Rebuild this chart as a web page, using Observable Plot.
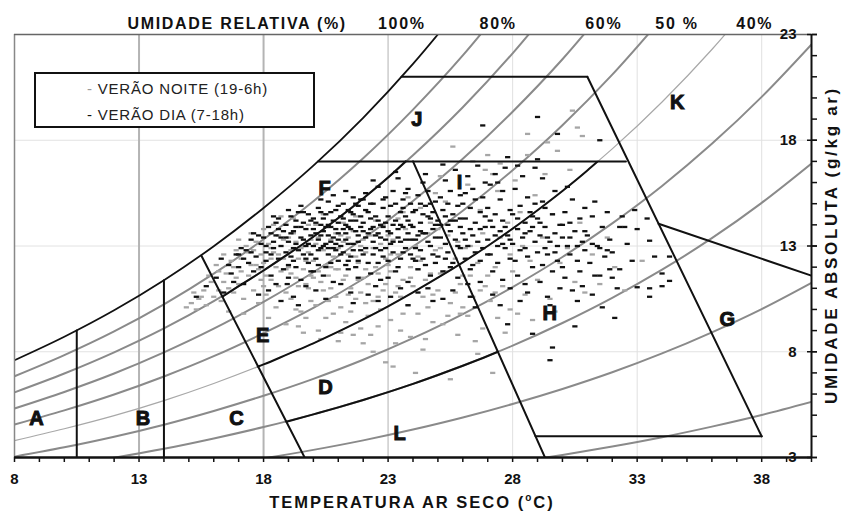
<!DOCTYPE html>
<html><head><meta charset="utf-8">
<script src="https://cdn.jsdelivr.net/npm/d3@7"></script>
<script src="https://cdn.jsdelivr.net/npm/@observablehq/plot@0.6"></script>
<style>
body{margin:0;background:#fff;}
#wrap{position:relative;width:846px;height:511px;font-family:"Liberation Sans",Arial,sans-serif;color:#111;}
.xtitle{position:absolute;left:412px;top:489px;transform:translateX(-50%);font-weight:bold;font-size:16.5px;line-height:17px;letter-spacing:2px;white-space:nowrap;}
.ytitle{position:absolute;left:832px;top:245px;transform:translate(-50%,-50%) rotate(-90deg);font-weight:bold;font-size:17px;line-height:18px;letter-spacing:2.7px;white-space:nowrap;}
.legend{position:absolute;left:34px;top:72px;width:281px;height:56px;box-sizing:border-box;border:2px solid #111;background:#fff;}
.legend span.row{position:absolute;left:51px;font-size:15px;line-height:16px;letter-spacing:0.8px;white-space:nowrap;color:#222;}
</style></head><body><div id="wrap"></div>
<script>
// ---- axis ticks ----
const xTicksMajor = [8, 13, 18, 23, 28, 33, 38];
const yTicksMajor = [3, 8, 13, 18, 23];
const topLabelText = ["UMIDADE RELATIVA (%)", "100%", "80%", "60%", "50 %", "40%"];
const topLabelT = [16.94, 23.55, 27.42, 31.66, 34.6, 37.72];

// ---- relative humidity curves [temp °C, g/kg] ----
const rh100 = [[8,7.60],[10,8.71],[12,9.96],[14,11.38],[16,12.99],[18,14.80],[20,16.80],[22,19.06],[24,21.61],[26,24.45]];
const rh90 = [[8,6.84],[10,7.84],[12,8.96],[14,10.24],[16,11.69],[18,13.32],[20,15.12],[22,17.15],[24,19.45],[26,22.01],[28,24.88]];
const rh80 = [[8,6.08],[10,6.97],[12,7.97],[14,9.10],[16,10.39],[18,11.84],[20,13.44],[22,15.25],[24,17.29],[26,19.56],[28,22.11],[30,24.95]];
const rh70 = [[8,5.32],[10,6.10],[12,6.97],[14,7.97],[16,9.09],[18,10.36],[20,11.76],[22,13.34],[24,15.13],[26,17.12],[28,19.35],[30,21.83],[32,24.62]];
const rh60 = [[8,4.56],[10,5.23],[12,5.98],[14,6.83],[16,7.79],[18,8.88],[20,10.08],[22,11.44],[24,12.97],[26,14.67],[28,16.58],[30,18.71],[32,21.10],[34,23.77]];
const rh50 = [[8,3.80],[10,4.36],[12,4.98],[14,5.69],[16,6.50],[18,7.40],[20,8.40],[22,9.53],[24,10.81],[26,12.23],[28,13.82],[30,15.60],[32,17.59],[34,19.81],[36,22.29],[38,25.06]];
const rh40 = [[8,3.04],[10,3.48],[12,3.98],[14,4.55],[16,5.20],[18,5.92],[20,6.72],[22,7.62],[24,8.64],[26,9.78],[28,11.06],[30,12.48],[32,14.07],[34,15.84],[36,17.83],[38,20.05],[40,22.53]];
const rh30 = [[10,2.61],[12,2.99],[14,3.41],[16,3.90],[18,4.44],[20,5.04],[22,5.72],[24,6.48],[26,7.34],[28,8.29],[30,9.36],[32,10.55],[34,11.88],[36,13.37],[38,15.04],[40,16.90]];
const rh20 = [[16,2.60],[18,2.96],[20,3.36],[22,3.81],[24,4.32],[26,4.89],[28,5.53],[30,6.24],[32,7.03],[34,7.92],[36,8.92],[38,10.02],[40,11.26]];
const rh10 = [[28,2.76],[30,3.12],[32,3.52],[34,3.96],[36,4.46],[38,5.01],[40,5.63]];

// ---- zone boundary lines ----
const lineV1 = [[10.5,3],[10.5,9.0]];
const lineV2 = [[14,3],[14,11.38]];
const lineCE = [[15.5,12.55],[19.65,3]];
const line80 = [[16.35,10.6],[17,11.10],[18,11.84],[19,12.63],[20,13.44],[21,14.32],[22,15.25],[23,16.24],[23.7,17.0]];
const line50 = [[17.77,7.3],[18,7.40],[19,7.90],[20,8.40],[21,8.95],[22,9.53],[23,10.15],[24,10.81],[25,11.50],[26,12.23],[27,13.0],[28,13.82],[29,14.69],[30,15.60],[31,16.57],[31.4,16.98]];
const line30 = [[18.92,4.69],[20,5.04],[21,5.37],[22,5.72],[23,6.09],[24,6.48],[25,6.90],[26,7.34],[27,7.80],[27.41,8.0]];
const lineHI = [[24.0,17],[29.3,3]];
const line17 = [[20.19,17],[32.55,17]];
const line21 = [[23.54,21],[31,21]];
const lineLong = [[31,21],[38,4]];
const line4 = [[28.92,4],[38,4]];
const lineGK = [[33.86,14.05],[40,11.6]];

// ---- zone letters ----
const zoneNames = ["A","B","C","D","E","F","J","I","K","H","G","L"];
const zoneT = [8.88,13.16,16.91,20.49,17.96,20.45,24.15,25.87,34.61,29.49,36.62,23.46];
const zoneW = [4.85,4.85,4.85,6.31,8.76,15.72,18.98,16.01,19.8,9.79,9.52,4.11];

// ---- summer night (19-6h) observations [temp, g/kg] ----
const night = [
[14.9,10.1],[15.1,10.3],[15.3,10.0],[15.4,10.5],[15.6,10.9],[15.7,10.2],[15.9,11.3],[15.2,10.8],[15.8,11.6],[15.5,10.6],
[16.0,10.6],[16.2,11.8],[16.3,10.4],[16.5,11.7],[16.6,11.0],[16.7,12.3],[16.8,10.8],[16.9,11.5],[16.1,12.1],[16.4,12.6],[16.6,9.9],[16.9,12.8],[16.4,11.3],[16.8,12.0],[16.2,10.9],
[17.0,11.2],[17.1,12.4],[17.2,10.5],[17.3,13.0],[17.4,11.6],[17.5,12.1],[17.6,10.9],[17.7,13.2],[17.8,11.9],[17.9,12.6],[17.2,9.8],[17.5,13.6],[17.8,10.3],[17.0,13.3],[17.6,12.8],[17.9,11.4],[17.1,11.8],[17.4,12.7],[17.7,12.1],
[18.0,12.2],[18.1,10.7],[18.2,13.1],[18.3,11.4],[18.4,12.7],[18.5,10.1],[18.6,13.5],[18.7,11.8],[18.8,12.4],[18.9,10.8],[18.2,9.6],[18.4,14.0],[18.6,11.1],[18.8,13.3],[18.0,13.8],[18.5,12.0],[18.9,9.3],[18.3,12.9],[18.7,14.4],[18.1,11.6],[18.0,11.1],[18.3,12.4],[18.6,12.6],[18.9,11.9],
[19.0,12.0],[19.1,10.5],[19.2,13.6],[19.3,11.5],[19.4,12.4],[19.5,9.9],[19.6,13.0],[19.7,11.2],[19.8,12.7],[19.9,10.4],[19.2,14.3],[19.4,9.2],[19.6,11.9],[19.8,14.0],[19.0,13.4],[19.3,10.0],[19.5,12.9],[19.7,9.6],[19.9,13.3],[19.1,11.7],[19.6,8.9],[19.8,11.0],[19.1,12.8],[19.4,11.1],[19.7,12.3],[19.9,11.6],[19.3,13.2],
[20.0,12.3],[20.1,10.2],[20.2,13.4],[20.3,11.3],[20.4,12.8],[20.5,9.6],[20.6,13.9],[20.7,11.0],[20.8,12.5],[20.9,10.6],[20.2,9.0],[20.4,14.5],[20.6,10.4],[20.8,9.8],[20.0,11.5],[20.5,12.1],[20.9,13.6],[20.3,8.6],[20.7,12.0],[21.0,8.5],[20.1,13.1],[20.6,11.6],[20.2,11.8],[20.4,10.9],[20.7,13.3],[20.9,11.9],[20.1,14.0],
[21.0,11.9],[21.1,10.1],[21.2,13.2],[21.3,9.4],[21.4,12.6],[21.5,11.0],[21.6,13.7],[21.7,10.5],[21.8,12.2],[21.9,9.1],[21.2,14.1],[21.4,10.7],[21.6,8.8],[21.8,11.4],[21.0,12.9],[21.5,9.9],[21.9,13.0],[21.3,11.6],[21.7,14.4],[21.1,8.9],[21.2,11.4],[21.4,13.4],[21.7,12.5],[21.9,10.8],[21.1,13.5],
[22.0,11.5],[22.0,8.4],[22.1,12.7],[22.2,9.7],[22.3,13.5],[22.4,10.4],[22.4,8.0],[22.5,12.0],[22.6,9.2],[22.7,13.1],[22.8,10.9],[22.9,7.5],[22.9,12.4],[22.2,11.2],[22.5,14.2],[22.7,10.0],[22.3,8.8],[22.6,11.7],[22.8,14.0],[22.1,10.3],[22.1,11.9],[22.4,12.9],[22.6,10.6],[22.9,11.2],[22.0,13.3],
[23.0,12.1],[23.1,9.5],[23.2,7.3],[23.2,13.3],[23.3,10.8],[23.4,12.6],[23.5,9.0],[23.6,11.4],[23.7,13.8],[23.8,10.2],[23.9,12.0],[23.3,8.4],[23.6,14.6],[23.9,8.7],[23.1,11.8],[23.5,10.6],[23.8,15.3],[23.4,14.3],[23.1,12.6],[23.4,11.1],[23.6,9.8],[23.9,11.5],[23.0,13.5],
[24.0,11.1],[24.1,7.0],[24.1,13.0],[24.2,9.8],[24.3,12.3],[24.4,10.6],[24.5,8.6],[24.6,13.6],[24.7,11.7],[24.8,9.4],[24.9,12.8],[24.3,14.8],[24.6,10.1],[24.9,15.5],[24.2,11.9],[24.7,14.1],[24.4,8.1],[24.2,12.5],[24.5,11.4],[24.8,10.7],[24.0,13.3],
[25.0,10.9],[25.1,12.9],[25.2,9.3],[25.3,11.8],[25.4,13.5],[25.5,6.7],[25.5,10.3],[25.6,17.7],[25.7,12.4],[25.8,8.8],[25.9,11.2],[25.3,15.1],[25.6,14.2],[25.9,9.8],[25.1,16.3],[25.8,13.2],[25.1,11.7],[25.4,9.7],[25.7,10.8],[25.0,13.8],
[26.0,11.6],[26.2,9.7],[26.3,13.0],[26.4,10.6],[26.6,7.9],[26.6,12.2],[26.7,14.7],[26.8,9.1],[26.9,11.1],[26.2,15.9],[26.5,8.5],[26.9,16.6],[26.1,12.9],[26.4,17.0],[26.8,13.6],[27.0,17.3],[26.0,10.1],[26.3,11.6],[26.7,10.9],
[27.1,10.4],[27.2,7.0],[27.3,12.0],[27.4,9.6],[27.5,13.4],[27.6,11.1],[27.8,14.1],[27.9,10.0],[27.4,15.6],[27.7,8.9],[27.2,16.4],[27.9,12.6],[27.5,16.9],[27.0,11.6],[27.3,10.8],
[28.0,11.8],[28.2,9.8],[28.4,13.0],[28.5,10.7],[28.6,18.3],[28.6,17.3],[28.7,12.3],[28.9,15.4],[28.3,14.6],[28.8,9.5],[28.1,16.1],
[29.0,11.4],[29.2,13.4],[29.4,17.9],[29.5,10.5],[29.6,14.5],[29.8,17.5],[29.9,12.2],[29.3,16.4],[29.7,9.9],
[30.4,19.4],[30.6,18.6],[30.8,18.2],[30.2,12.9],[30.5,11.3],[30.7,14.1],[30.9,10.8],[30.3,16.6],
[31.2,12.6],[31.5,11.2],[31.8,13.4],[32.1,12.0],[32.5,10.9],[33.2,12.3]
];

// ---- summer day (7-18h) observations [temp, g/kg] ----
const day = [
[15.3,10.6],[15.7,11.1],
[16.1,11.5],[16.4,10.8],[16.6,12.1],[16.8,11.3],[16.9,12.6],[16.3,12.4],[16.7,11.7],
[17.0,12.0],[17.2,11.2],[17.3,12.8],[17.5,13.3],[17.6,11.8],[17.7,12.5],[17.8,10.7],[17.9,13.1],[17.4,12.2],[17.1,12.9],[17.9,12.0],[17.6,13.6],[17.2,12.4],[17.5,12.7],[17.8,13.5],[17.0,12.6],
[18.0,13.4],[18.1,12.3],[18.2,13.9],[18.3,11.6],[18.4,12.9],[18.5,13.5],[18.5,14.1],[18.6,12.4],[18.7,13.0],[18.8,11.9],[18.8,13.7],[18.9,12.7],[18.2,10.9],[18.4,13.2],[18.6,14.3],[18.9,14.0],[18.3,12.6],[18.7,10.4],[18.1,13.0],[18.95,11.2],[18.3,13.6],[18.6,13.8],[18.9,13.4],[18.1,12.7],[18.4,14.4],[18.7,13.4],[18.5,11.2],
[19.0,13.2],[19.1,12.5],[19.1,14.4],[19.2,13.7],[19.3,12.0],[19.3,13.1],[19.4,14.6],[19.4,12.8],[19.5,13.4],[19.5,11.4],[19.6,14.1],[19.6,12.6],[19.7,13.0],[19.7,13.8],[19.8,14.5],[19.8,12.2],[19.9,13.5],[19.9,11.8],[19.2,10.6],[19.5,14.9],[19.0,12.1],[19.3,14.2],[19.6,13.3],[19.8,13.1],[19.4,10.2],[19.7,11.1],[19.9,14.2],[19.1,13.6],[19.0,14.7],[19.2,12.9],[19.3,13.9],[19.5,13.9],[19.6,14.6],[19.7,12.4],[19.9,12.6],[19.0,11.5],[19.2,12.3],
[20.0,13.0],[20.0,14.3],[20.1,13.6],[20.1,12.4],[20.2,14.8],[20.2,13.3],[20.3,12.9],[20.3,14.0],[20.4,13.7],[20.4,11.6],[20.5,14.5],[20.5,13.1],[20.6,12.6],[20.6,15.1],[20.7,13.9],[20.7,12.2],[20.8,14.2],[20.8,13.4],[20.9,12.8],[20.9,14.7],[20.1,10.9],[20.3,15.2],[20.5,12.0],[20.6,13.5],[20.8,11.3],[20.9,13.8],[20.2,12.1],[20.4,14.3],[20.7,14.6],[20.0,11.8],[20.5,10.5],[20.8,15.4],[20.3,13.5],[20.6,14.0],[20.0,13.8],[20.1,14.1],[20.2,12.8],[20.3,14.6],[20.4,13.0],[20.5,13.9],[20.6,12.9],[20.7,13.2],[20.8,12.9],[20.9,13.1],
[21.0,13.6],[21.0,12.3],[21.1,14.4],[21.1,13.0],[21.2,15.0],[21.2,12.7],[21.3,14.0],[21.3,13.3],[21.4,11.9],[21.4,14.7],[21.5,13.8],[21.5,12.5],[21.6,15.3],[21.6,13.1],[21.7,14.2],[21.7,12.0],[21.8,13.5],[21.8,14.9],[21.9,12.8],[21.9,13.9],[21.1,11.2],[21.3,15.6],[21.5,10.8],[21.6,14.5],[21.8,11.5],[21.2,13.8],[21.4,13.1],[21.7,13.7],[21.9,15.2],[21.0,14.9],[21.5,14.2],[21.8,12.3],[21.3,12.1],[21.6,10.3],[21.0,13.3],[21.0,14.1],[21.1,12.6],[21.2,14.3],[21.3,13.6],[21.4,12.3],[21.4,13.9],[21.5,14.6],[21.6,12.8],[21.7,15.0],[21.8,13.2],[21.9,14.4],
[22.0,14.1],[22.0,12.6],[22.1,13.4],[22.1,15.5],[22.2,14.6],[22.2,12.2],[22.3,13.8],[22.3,11.7],[22.4,15.0],[22.4,13.2],[22.5,14.4],[22.5,12.9],[22.6,15.8],[22.6,13.6],[22.7,14.0],[22.7,11.4],[22.8,14.8],[22.8,12.5],[22.9,13.3],[22.9,15.3],[22.2,10.7],[22.4,16.1],[22.5,11.1],[22.7,12.8],[22.8,13.9],[22.1,14.7],[22.3,14.3],[22.6,12.2],[22.9,14.1],[22.0,15.2],[22.6,10.4],[22.4,13.9],[22.0,13.7],[22.1,12.9],[22.2,13.6],[22.3,15.0],[22.4,12.6],[22.5,13.5],[22.6,14.2],[22.7,13.4],[22.8,15.2],[22.9,12.9],
[23.0,13.7],[23.0,12.3],[23.1,14.9],[23.1,13.1],[23.2,15.6],[23.2,12.7],[23.3,14.2],[23.3,11.8],[23.4,13.4],[23.4,16.2],[23.5,14.6],[23.5,12.4],[23.6,13.9],[23.6,15.2],[23.7,12.9],[23.7,14.4],[23.8,11.3],[23.8,13.6],[23.9,15.0],[23.9,12.6],[23.1,10.6],[23.3,16.5],[23.5,11.0],[23.7,13.3],[23.9,14.0],[23.2,14.0],[23.4,12.0],[23.6,14.8],[23.8,15.7],[23.0,11.5],[23.5,13.2],[23.8,10.2],[23.0,14.4],[23.1,13.6],[23.2,13.2],[23.3,15.0],[23.4,13.8],[23.5,14.0],[23.6,12.7],[23.7,15.5],[23.8,14.2],[23.9,13.3],
[24.0,13.9],[24.0,12.4],[24.1,14.7],[24.1,13.3],[24.2,15.4],[24.2,11.9],[24.3,14.1],[24.3,12.8],[24.4,16.0],[24.4,13.6],[24.5,14.9],[24.5,12.1],[24.6,13.2],[24.6,15.6],[24.7,14.3],[24.7,11.6],[24.8,13.8],[24.8,12.6],[24.9,15.1],[24.9,14.0],[24.2,10.8],[24.5,16.4],[24.6,11.0],[24.8,10.4],[24.1,12.9],[24.3,15.0],[24.7,13.0],[24.9,12.2],[24.4,14.5],[24.6,14.4],[24.0,14.6],[24.1,12.3],[24.2,13.5],[24.3,13.7],[24.4,12.4],[24.5,13.6],[24.7,15.0],[24.8,14.6],[24.9,13.4],
[25.0,14.2],[25.0,12.5],[25.1,15.3],[25.1,13.4],[25.2,14.7],[25.2,11.8],[25.3,13.1],[25.3,16.1],[25.4,14.0],[25.4,12.7],[25.5,15.6],[25.5,13.7],[25.6,12.2],[25.6,14.5],[25.7,13.3],[25.7,16.6],[25.8,14.9],[25.8,11.5],[25.9,13.9],[25.9,12.9],[25.2,10.5],[25.4,15.0],[25.6,10.9],[25.8,13.0],[25.2,16.85],[25.5,12.0],[25.9,15.4],[25.3,14.4],[25.1,14.0],[25.3,12.4],[25.5,14.2],[25.7,14.2],[25.9,14.3],
[26.0,13.6],[26.0,15.0],[26.1,12.4],[26.1,14.3],[26.2,16.3],[26.2,13.0],[26.3,14.8],[26.3,11.9],[26.4,13.5],[26.4,15.7],[26.5,12.7],[26.5,14.1],[26.6,16.8],[26.6,13.2],[26.7,14.6],[26.7,11.3],[26.8,15.3],[26.8,12.9],[26.9,13.9],[26.9,14.4],[26.3,10.6],[26.5,10.1],[26.7,12.3],[26.9,16.0],[26.1,15.5],[26.4,12.1],[26.8,18.7],[26.2,11.2],[26.1,13.3],[26.3,13.8],[26.5,15.2],[26.7,13.8],
[27.0,13.3],[27.0,14.8],[27.1,12.6],[27.1,15.9],[27.2,13.9],[27.2,11.8],[27.3,14.5],[27.3,16.4],[27.4,13.0],[27.4,12.2],[27.5,15.2],[27.5,13.7],[27.6,14.2],[27.6,11.4],[27.7,16.7],[27.7,12.9],[27.8,13.5],[27.8,17.2],[27.9,14.7],[27.9,12.4],[27.2,10.7],[27.5,10.2],[27.8,9.3],[27.4,16.0],[27.6,15.6],[27.9,11.0],[27.1,14.2],[27.7,13.9],[27.0,12.6],[27.3,13.5],[27.6,13.1],[27.9,13.3],
[28.0,13.1],[28.0,14.5],[28.1,12.3],[28.1,15.7],[28.2,13.8],[28.2,11.6],[28.3,14.9],[28.3,12.8],[28.4,16.3],[28.4,13.4],[28.5,14.1],[28.5,11.2],[28.6,15.3],[28.6,12.5],[28.7,13.7],[28.7,14.6],[28.8,12.0],[28.8,8.85],[28.9,13.2],[28.9,15.0],[28.3,10.4],[28.6,10.8],[28.9,16.7],[28.2,16.8],[28.5,12.9],[28.8,13.9],[28.2,14.3],[28.5,13.6],[28.8,14.4],
[29.0,14.3],[29.0,12.7],[29.0,19.1],[29.0,17.1],[29.1,13.5],[29.1,11.3],[29.2,15.1],[29.2,12.1],[29.3,13.9],[29.3,14.8],[29.4,12.6],[29.4,10.6],[29.5,13.2],[29.5,7.6],[29.6,14.5],[29.6,8.2],[29.6,11.8],[29.7,13.6],[29.7,15.6],[29.8,12.3],[29.8,18.3],[29.9,14.0],[29.9,11.0],[29.2,16.2],[29.5,10.2],[29.8,13.0],[29.3,12.9],[29.1,14.1],[29.4,13.4],[29.7,12.7],
[30.0,13.4],[30.0,12.0],[30.1,14.6],[30.1,11.5],[30.2,13.0],[30.3,14.1],[30.3,12.6],[30.4,15.2],[30.4,10.9],[30.5,13.7],[30.5,9.2],[30.6,12.3],[30.7,14.3],[30.7,11.8],[30.8,13.2],[30.9,12.8],[30.9,14.8],[30.2,15.8],[30.6,10.4],[30.8,11.1],[30.0,14.0],[30.3,13.4],[30.6,13.0],[30.9,13.7],
[31.0,13.5],[31.1,12.2],[31.2,14.4],[31.3,11.6],[31.4,13.0],[31.5,18.0],[31.5,11.6],[31.6,13.9],[31.7,12.5],[31.8,14.6],[31.9,11.9],[31.2,10.7],[31.6,10.1],[31.9,13.3],[31.3,15.1],[31.2,13.1],[31.5,12.9],[31.8,12.8],
[32.0,12.7],[32.1,9.6],[32.3,13.9],[32.3,11.9],[32.5,13.9],[32.6,13.1],[32.2,11.0],[32.8,12.3],[32.4,14.4],[32.0,11.5],[32.9,14.7],
[33.0,13.8],[33.0,11.05],[33.4,14.3],[33.5,13.25],[33.5,11.0],[33.5,10.6],[33.7,12.5],[34.0,11.1],[34.0,11.7],[34.3,11.35],[34.3,12.5]
];

const T = d => d[0], Wv = d => d[1];
const dash = {draw(ctx) { ctx.moveTo(-2.6,-1.15); ctx.lineTo(2.6,-1.15); ctx.lineTo(2.6,1.15); ctx.lineTo(-2.6,1.15); ctx.closePath(); }};

const rhLine = (data, stroke, sw) => Plot.line(data, {x: T, y: Wv, curve: "monotone-x", stroke, strokeWidth: sw, clip: true});
const zLine = (data, curve) => Plot.line(data, {x: T, y: Wv, curve: curve || "linear", stroke: "#111", strokeWidth: 2, clip: true});

const chart = Plot.plot({
  width: 846, height: 511,
  marginTop: 34, marginBottom: 54, marginLeft: 14, marginRight: 35,
  x: {domain: [8, 40], axis: null},
  y: {domain: [3, 23], axis: null},
  style: {fontFamily: "Liberation Sans, Arial, sans-serif", background: "white", color: "#111", overflow: "visible"},
  marks: [
    Plot.ruleY([8, 13, 18], {stroke: "#e2e2e2", strokeWidth: 1}),
    Plot.ruleX([13, 18], {stroke: "#b4b4b4", strokeWidth: 2}),
    Plot.ruleX([23], {stroke: "#cccccc", strokeWidth: 1.5}),
    Plot.ruleX([28, 33, 38], {stroke: "#e0e0e0", strokeWidth: 1}),
    rhLine(rh90, "#8a8a8a", 2),
    rhLine(rh80, "#8a8a8a", 2),
    rhLine(rh70, "#8a8a8a", 2),
    rhLine(rh60, "#8a8a8a", 2),
    rhLine(rh50, "#a8a8a8", 1.2),
    rhLine(rh40, "#8a8a8a", 2),
    rhLine(rh30, "#8a8a8a", 2),
    rhLine(rh20, "#8a8a8a", 2),
    rhLine(rh10, "#8a8a8a", 2),
    Plot.dot(night, {x: T, y: Wv, symbol: dash, fill: "#a6a6a6", stroke: "none"}),
    Plot.dot(day, {x: T, y: Wv, symbol: dash, fill: "#111", stroke: "none"}),
    Plot.line(rh100, {x: T, y: Wv, curve: "monotone-x", stroke: "#111", strokeWidth: 1.8, clip: true}),
    zLine(lineV1), zLine(lineV2), zLine(lineCE),
    zLine(line80, "monotone-x"), zLine(line50, "monotone-x"), zLine(line30, "monotone-x"),
    zLine(lineHI), zLine(line17), zLine(line21), zLine(lineLong), zLine(line4), zLine(lineGK),
    Plot.ruleX([8], {stroke: "#888", strokeWidth: 1.5}),
    Plot.ruleY([23], {stroke: "#666", strokeWidth: 1.3}),
    Plot.ruleY([3], {stroke: "#111", strokeWidth: 2.5}),
    Plot.ruleX([40], {stroke: "#111", strokeWidth: 2}),
    Plot.axisX({ticks: d3.range(8, 41), tickSize: 5, tickFormat: () => "", strokeWidth: 1.5, label: null}),
    Plot.axisX({ticks: xTicksMajor, tickSize: 0, tickPadding: 16, fontSize: 15, fontWeight: "bold", label: null}),
    Plot.axisY({anchor: "right", ticks: d3.range(3, 24), tickSize: 5, tickFormat: () => "", strokeWidth: 1.5, label: null}),
    Plot.axisY({anchor: "right", ticks: yTicksMajor, tickSize: 10, dx: -5, tickFormat: () => "", strokeWidth: 1.5, label: null}),
    Plot.text(yTicksMajor, {y: d => d, text: d => String(d), frameAnchor: "right", textAnchor: "end", dx: -15, fontSize: 15, fontWeight: "bold"}),
    Plot.text(topLabelText, {x: (d, i) => topLabelT[i], text: d => d, frameAnchor: "top", dy: -17, fontSize: 16, fontWeight: "bold"}),
    Plot.text(zoneNames, {x: (d, i) => zoneT[i], y: (d, i) => zoneW[i], text: d => d, fontSize: 20, fontWeight: "bold", fill: "#111"})
  ]
});

// typographic touches: letter spacing for the top labels, heavier zone letters
d3.select(chart).selectAll("text").each(function() {
  const t = this.textContent;
  if (topLabelText.includes(t)) this.setAttribute("letter-spacing", "1.7");
  if (zoneNames.includes(t)) { this.setAttribute("stroke", "#111"); this.setAttribute("stroke-width", "1"); }
});

const wrap = document.getElementById("wrap");
wrap.appendChild(chart);

const legend = document.createElement("div");
legend.className = "legend";
legend.innerHTML = '<span class="row" style="top:7px"><span style="color:#9a9a9a">-</span> VERÃO NOITE (19-6h)</span>' +
                   '<span class="row" style="top:33px"><span style="color:#111">-</span> VERÃO DIA (7-18h)</span>';
wrap.appendChild(legend);

const xt = document.createElement("div");
xt.className = "xtitle";
xt.innerHTML = "TEMPERATURA AR SECO (<sup style=\"font-size:10px\">o</sup>C)";
wrap.appendChild(xt);

const yt = document.createElement("div");
yt.className = "ytitle";
yt.textContent = "UMIDADE ABSOLUTA (g/kg ar)";
wrap.appendChild(yt);
</script></body></html>
